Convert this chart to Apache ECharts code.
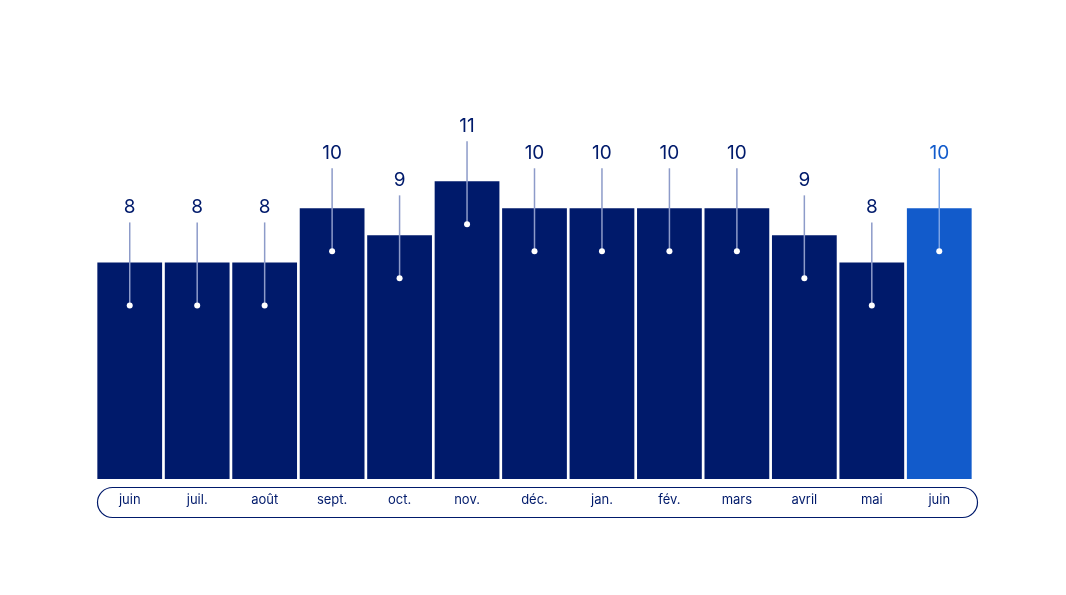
<!DOCTYPE html>
<html><head><meta charset="utf-8">
<script src="https://cdn.jsdelivr.net/npm/echarts@6/dist/echarts.min.js"></script>
<style>html,body{margin:0;padding:0;background:#fff}#c{width:1066px;height:595px}</style>
</head><body><div id="c"></div>
<script>
const categories = ['juin','juil.','août','sept.','oct.','nov.','déc.','jan.','fév.','mars','avril','mai','juin'];
const values = [8,8,8,10,9,11,10,10,10,10,9,8,10];
const highlightIndex = 12;
const dark = '#001a6b', bright = '#125bcb';
const chart = echarts.init(document.getElementById('c'));
chart.setOption({
  animation:false,
  grid:{left:96,right:93,top:100,bottom:116},
  xAxis:{type:'category',data:categories,axisLine:{show:false},axisTick:{show:false},
    axisLabel:{margin:15,fontSize:13,color:dark,fontFamily:'Inter'}},
  yAxis:{type:'value',min:0,max:14,show:false,splitLine:{show:false}},
  graphic:[{type:'rect',left:95,top:485,shape:{width:880,height:30,r:15},
    style:{fill:'none',stroke:dark,lineWidth:1.2}}],
  series:[
    {type:'bar',barWidth:'96%',data:values.map((v,i)=>({value:v,itemStyle:{color:i===highlightIndex?bright:dark}}))},
    {type:'custom',data:values.map((v,i)=>[i,v]),z:10,
     renderItem:(params,api)=>{
       const i=api.value(0), v=api.value(1);
       const p=api.coord([i,v]);
       const hl=i===highlightIndex;
       return {type:'group',children:[
         {type:'line',shape:{x1:p[0],y1:p[1]-40,x2:p[0],y2:p[1]+43},style:{stroke:hl?'#7aa3e6':'#8d9bc9',lineWidth:1.5}},
         {type:'circle',shape:{cx:p[0],cy:p[1]+43,r:3},style:{fill:'#fff'}},
         {type:'text',x:p[0],y:p[1]-55,style:{text:String(v),fill:hl?bright:dark,fontSize:19,fontFamily:'Inter',align:'center',verticalAlign:'middle'}}
       ]};
     }}
  ]
});
</script></body></html>
